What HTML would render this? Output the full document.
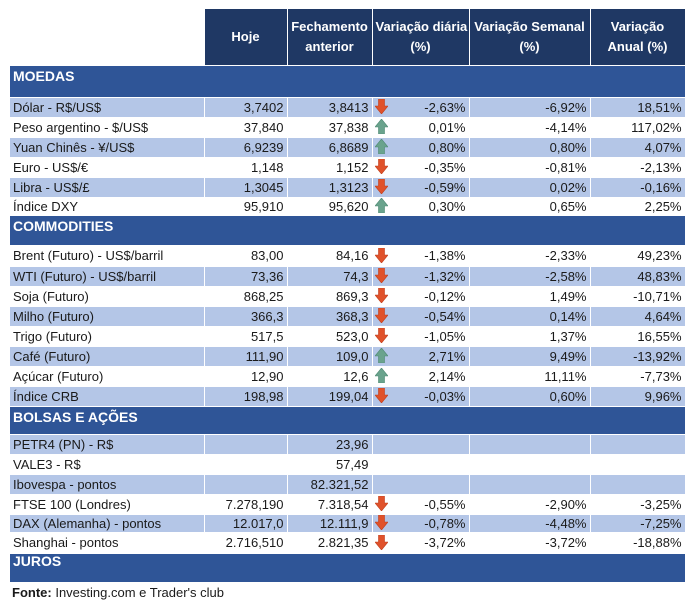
<!DOCTYPE html>
<html><head><meta charset="utf-8">
<style>
body{margin:0;background:#fff;width:695px;height:611px;overflow:hidden;font-family:"Liberation Sans",Arial,sans-serif;font-size:13px;color:#1a1a1a;}
table{position:absolute;left:10px;top:9px;border-collapse:collapse;table-layout:fixed;width:675px;}
td{padding:0 3px;white-space:nowrap;overflow:hidden;border-right:1px solid #fff;border-bottom:1px solid #fff;line-height:15px;}
td.n{text-align:right;}
tr.h td{background:#1f3864;color:#fff;font-weight:bold;text-align:center;vertical-align:middle;line-height:20px;}
tr.h td.blank{background:#fff;}
tr.s td{background:#2f5597;color:#fff;font-weight:bold;vertical-align:top;padding-top:3px;font-size:14px;border-right:none;}
tr.l td{background:#b4c6e7;}
tr.w td{background:#fff;}
td.d{position:relative;}
.ar{position:absolute;left:2px;top:50%;margin-top:-8px;}
.fonte{position:absolute;left:12px;top:585px;font-size:13px;}
</style></head><body>
<svg width="0" height="0" style="position:absolute">
<defs>
<symbol id="dn" viewBox="0 0 13 15"><path d="M3.5 0H9.5V7H13L6.5 15L0 7H3.5Z" fill="#e0522b" stroke="#c0401f" stroke-width="0.6"/></symbol>
<symbol id="up" viewBox="0 0 13 15"><path d="M3.5 15H9.5V8H13L6.5 0L0 8H3.5Z" fill="#6aa38d" stroke="#4f8a74" stroke-width="0.6"/></symbol>
</defs></svg>
<table>
<colgroup><col style="width:194px"><col style="width:83px"><col style="width:85px"><col style="width:97px"><col style="width:121px"><col style="width:95px"></colgroup>
<tr class="h" style="height:56px"><td class="blank"></td><td>Hoje</td><td>Fechamento<br>anterior</td><td>Variação diária<br>(%)</td><td>Variação Semanal<br>(%)</td><td>Variação<br>Anual (%)</td></tr>
<tr class="s" style="height:32px"><td colspan="6">MOEDAS</td></tr>
<tr class="l" style="height:20px"><td>Dólar - R$/US$</td><td class="n">3,7402</td><td class="n">3,8413</td><td class="n d"><svg class="ar" width="13" height="15"><use href="#dn"/></svg>-2,63%</td><td class="n">-6,92%</td><td class="n">18,51%</td></tr>
<tr class="w" style="height:20px"><td>Peso argentino - $/US$</td><td class="n">37,840</td><td class="n">37,838</td><td class="n d"><svg class="ar" width="13" height="15"><use href="#up"/></svg>0,01%</td><td class="n">-4,14%</td><td class="n">117,02%</td></tr>
<tr class="l" style="height:20px"><td>Yuan Chinês - ¥/US$</td><td class="n">6,9239</td><td class="n">6,8689</td><td class="n d"><svg class="ar" width="13" height="15"><use href="#up"/></svg>0,80%</td><td class="n">0,80%</td><td class="n">4,07%</td></tr>
<tr class="w" style="height:20px"><td>Euro - US$/€</td><td class="n">1,148</td><td class="n">1,152</td><td class="n d"><svg class="ar" width="13" height="15"><use href="#dn"/></svg>-0,35%</td><td class="n">-0,81%</td><td class="n">-2,13%</td></tr>
<tr class="l" style="height:20px"><td>Libra - US$/£</td><td class="n">1,3045</td><td class="n">1,3123</td><td class="n d"><svg class="ar" width="13" height="15"><use href="#dn"/></svg>-0,59%</td><td class="n">0,02%</td><td class="n">-0,16%</td></tr>
<tr class="w" style="height:18px"><td>Índice DXY</td><td class="n">95,910</td><td class="n">95,620</td><td class="n d"><svg class="ar" width="13" height="15"><use href="#up"/></svg>0,30%</td><td class="n">0,65%</td><td class="n">2,25%</td></tr>
<tr class="s" style="height:30px"><td colspan="6">COMMODITIES</td></tr>
<tr class="w" style="height:21px"><td>Brent (Futuro) - US$/barril</td><td class="n">83,00</td><td class="n">84,16</td><td class="n d"><svg class="ar" width="13" height="15"><use href="#dn"/></svg>-1,38%</td><td class="n">-2,33%</td><td class="n">49,23%</td></tr>
<tr class="l" style="height:20px"><td>WTI (Futuro) - US$/barril</td><td class="n">73,36</td><td class="n">74,3</td><td class="n d"><svg class="ar" width="13" height="15"><use href="#dn"/></svg>-1,32%</td><td class="n">-2,58%</td><td class="n">48,83%</td></tr>
<tr class="w" style="height:20px"><td>Soja (Futuro)</td><td class="n">868,25</td><td class="n">869,3</td><td class="n d"><svg class="ar" width="13" height="15"><use href="#dn"/></svg>-0,12%</td><td class="n">1,49%</td><td class="n">-10,71%</td></tr>
<tr class="l" style="height:20px"><td>Milho (Futuro)</td><td class="n">366,3</td><td class="n">368,3</td><td class="n d"><svg class="ar" width="13" height="15"><use href="#dn"/></svg>-0,54%</td><td class="n">0,14%</td><td class="n">4,64%</td></tr>
<tr class="w" style="height:20px"><td>Trigo (Futuro)</td><td class="n">517,5</td><td class="n">523,0</td><td class="n d"><svg class="ar" width="13" height="15"><use href="#dn"/></svg>-1,05%</td><td class="n">1,37%</td><td class="n">16,55%</td></tr>
<tr class="l" style="height:20px"><td>Café (Futuro)</td><td class="n">111,90</td><td class="n">109,0</td><td class="n d"><svg class="ar" width="13" height="15"><use href="#up"/></svg>2,71%</td><td class="n">9,49%</td><td class="n">-13,92%</td></tr>
<tr class="w" style="height:20px"><td>Açúcar (Futuro)</td><td class="n">12,90</td><td class="n">12,6</td><td class="n d"><svg class="ar" width="13" height="15"><use href="#up"/></svg>2,14%</td><td class="n">11,11%</td><td class="n">-7,73%</td></tr>
<tr class="l" style="height:20px"><td>Índice CRB</td><td class="n">198,98</td><td class="n">199,04</td><td class="n d"><svg class="ar" width="13" height="15"><use href="#dn"/></svg>-0,03%</td><td class="n">0,60%</td><td class="n">9,96%</td></tr>
<tr class="s" style="height:28px"><td colspan="6">BOLSAS E AÇÕES</td></tr>
<tr class="l" style="height:20px"><td>PETR4 (PN) - R$</td><td class="n"></td><td class="n">23,96</td><td></td><td></td><td></td></tr>
<tr class="w" style="height:20px"><td>VALE3 - R$</td><td class="n"></td><td class="n">57,49</td><td></td><td></td><td></td></tr>
<tr class="l" style="height:20px"><td>Ibovespa - pontos</td><td class="n"></td><td class="n">82.321,52</td><td></td><td></td><td></td></tr>
<tr class="w" style="height:20px"><td>FTSE 100 (Londres)</td><td class="n">7.278,190</td><td class="n">7.318,54</td><td class="n d"><svg class="ar" width="13" height="15"><use href="#dn"/></svg>-0,55%</td><td class="n">-2,90%</td><td class="n">-3,25%</td></tr>
<tr class="l" style="height:18px"><td>DAX (Alemanha) - pontos</td><td class="n">12.017,0</td><td class="n">12.111,9</td><td class="n d"><svg class="ar" width="13" height="15"><use href="#dn"/></svg>-0,78%</td><td class="n">-4,48%</td><td class="n">-7,25%</td></tr>
<tr class="w" style="height:21px"><td>Shanghai - pontos</td><td class="n">2.716,510</td><td class="n">2.821,35</td><td class="n d"><svg class="ar" width="13" height="15"><use href="#dn"/></svg>-3,72%</td><td class="n">-3,72%</td><td class="n">-18,88%</td></tr>
<tr class="s" style="height:29px"><td colspan="6" style="padding-top:0">JUROS</td></tr>
</table>
<div class="fonte"><b>Fonte:</b> Investing.com e Trader's club</div>
</body></html>
